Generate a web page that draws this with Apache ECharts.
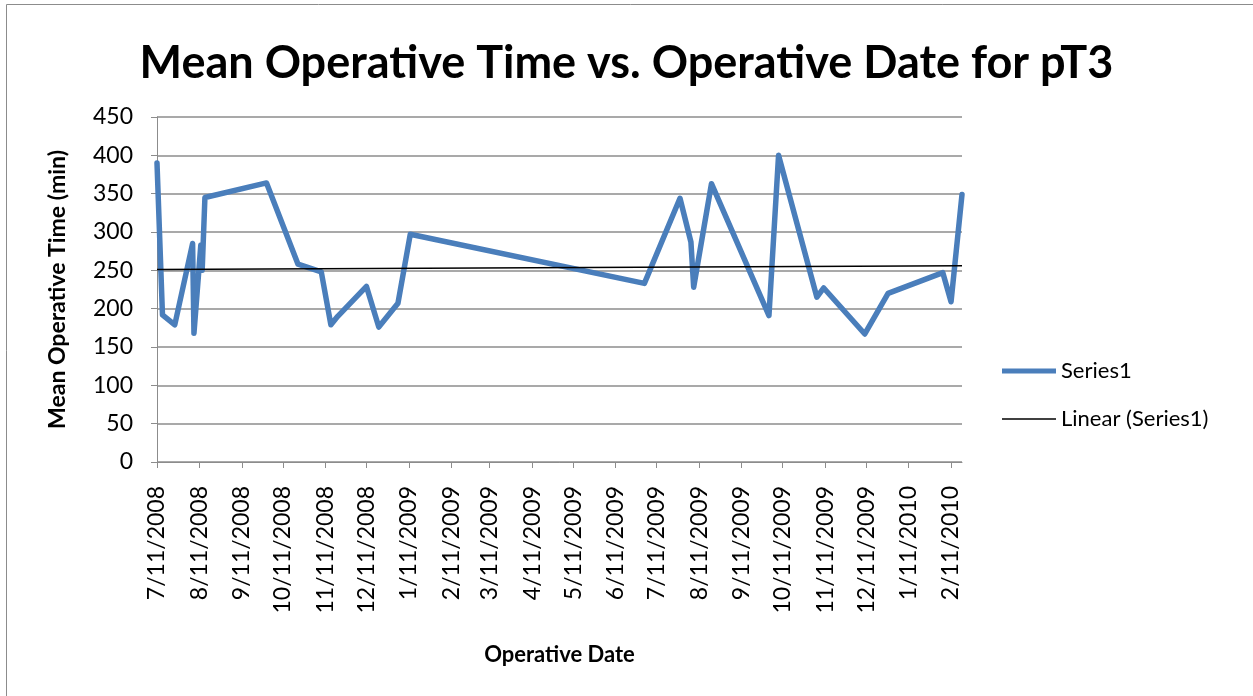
<!DOCTYPE html>
<html>
<head>
<meta charset="utf-8">
<script src="https://cdn.jsdelivr.net/npm/echarts@6/dist/echarts.min.js"></script>
<style>
  html, body { margin: 0; padding: 0; background: #fff; }
  #chart { width: 1253px; height: 696px; }
</style>
</head>
<body>
<div id="chart"></div>
<script>
// operative dates
var opDates = ['2008-07-11', '2008-07-15', '2008-07-24', '2008-08-06', '2008-08-07', '2008-08-12',
    '2008-08-13', '2008-08-15', '2008-09-29', '2008-10-22', '2008-11-08', '2008-11-15',
    '2008-11-20', '2008-12-11', '2008-12-20', '2009-01-03', '2009-01-12', '2009-07-02',
    '2009-07-28', '2009-08-05', '2009-08-07', '2009-08-20', '2009-10-01', '2009-10-08',
    '2009-11-05', '2009-11-10', '2009-12-10', '2009-12-27', '2010-02-05', '2010-02-11',
    '2010-02-19'];
// mean operative time (min)
var meanTimes = [390, 192, 179, 285, 168, 283, 250, 345, 364, 258, 248, 179, 190, 229, 176, 207,
    297, 233, 344, 287, 228, 363, 191, 400, 215, 227, 167, 220, 247, 209, 349];
// linear trendline ends (Linear (Series1))
var trendEnds = [251, 256];
// month ticks on the date axis
var tickDates = ['2008-07-11', '2008-08-11', '2008-09-11', '2008-10-11', '2008-11-11', '2008-12-11',
    '2009-01-11', '2009-02-11', '2009-03-11', '2009-04-11', '2009-05-11', '2009-06-11',
    '2009-07-11', '2009-08-11', '2009-09-11', '2009-10-11', '2009-11-11', '2009-12-11',
    '2010-01-11', '2010-02-11'];

function toTime(s) {
    var p = s.split('-');
    return new Date(+p[0], +p[1] - 1, +p[2]).getTime();
}

var fontFam = 'Lato, "Open Sans", sans-serif';
var gridColor = '#8c8c8c';

var seriesData = opDates.map(function (d, i) { return [toTime(d), meanTimes[i]]; });
var minT = toTime(opDates[0]);
var maxT = toTime(opDates[opDates.length - 1]);
var trendData = [[minT, trendEnds[0]], [maxT, trendEnds[1]]];
var tickTimes = tickDates.map(toTime);

var myChart = echarts.init(document.getElementById('chart'), null, { renderer: 'canvas' });
var option = {
    animation: false,
    backgroundColor: '#fff',
    textStyle: { fontFamily: fontFam },
    title: {
        text: 'Mean Operative Time vs. Operative Date for pT3',
        left: 'center',
        top: 36,
        textStyle: { fontFamily: fontFam, fontSize: 45, fontWeight: 'bold', color: '#000' }
    },
    graphic: [{
        type: 'rect',
        shape: { x: 6.5, y: 4.5, width: 1300, height: 720 },
        style: { fill: 'none', stroke: '#8c8c8c', lineWidth: 1 },
        silent: true
    }],
    legend: {
        orient: 'vertical',
        left: 997,
        top: 355,
        itemWidth: 54,
        itemHeight: 14,
        itemGap: 26,
        symbolKeepAspect: true,
        textStyle: { fontFamily: fontFam, fontSize: 22, color: '#000' },
        data: [
            { name: 'Series1', icon: 'path://M0,0h54v5h-54z' },
            { name: 'Linear (Series1)', icon: 'path://M0,0h54v1.3h-54z' }
        ]
    },
    grid: { left: 157, right: 291, top: 117, bottom: 234 },
    xAxis: {
        type: 'value',
        min: minT,
        max: maxT,
        name: 'Operative Date',
        nameLocation: 'middle',
        nameGap: 182,
        nameTextStyle: { fontFamily: fontFam, fontSize: 22, fontWeight: 'bold', color: '#000' },
        axisLine: { lineStyle: { color: gridColor, width: 1 } },
        axisTick: { show: true, length: 6, customValues: tickTimes, lineStyle: { color: gridColor } },
        axisLabel: {
            customValues: tickTimes,
            rotate: 90,
            margin: 24,
            fontSize: 23,
            color: '#000',
            fontFamily: fontFam,
            formatter: function (val) {
                var d = new Date(val);
                return (d.getMonth() + 1) + '/' + d.getDate() + '/' + d.getFullYear();
            }
        },
        splitLine: { show: false }
    },
    yAxis: {
        type: 'value',
        min: 0,
        max: 450,
        interval: 50,
        name: 'Mean Operative Time (min)',
        nameLocation: 'middle',
        nameRotate: 90,
        nameGap: 88,
        nameTextStyle: { fontFamily: fontFam, fontSize: 23, fontWeight: 'bold', color: '#000' },
        axisLine: { show: true, lineStyle: { color: gridColor, width: 1 } },
        axisTick: { show: true, length: 6, lineStyle: { color: gridColor } },
        axisLabel: { fontSize: 23, color: '#000', margin: 24, fontFamily: fontFam },
        splitLine: { lineStyle: { color: gridColor, width: 1.5 } }
    },
    series: [
        {
            name: 'Series1',
            type: 'line',
            data: seriesData,
            showSymbol: false,
            symbol: 'none',
            lineStyle: { color: '#4a7ebb', width: 5.5, join: 'round', cap: 'round' },
            itemStyle: { color: '#4a7ebb' },
            z: 3
        },
        {
            name: 'Linear (Series1)',
            type: 'line',
            data: trendData,
            showSymbol: false,
            symbol: 'none',
            lineStyle: { color: '#000', width: 1.5 },
            itemStyle: { color: '#000' },
            z: 4
        }
    ]
};
myChart.setOption(option);
</script>
</body>
</html>
